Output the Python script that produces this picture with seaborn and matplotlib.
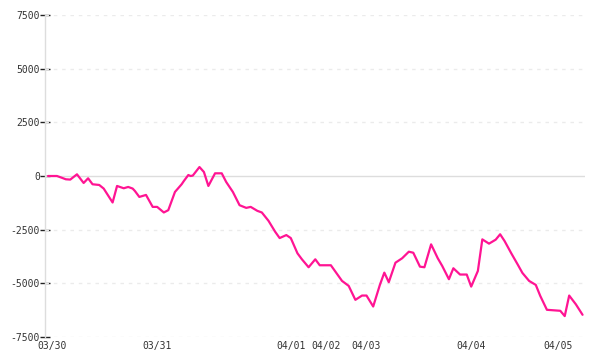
import matplotlib
matplotlib.use("Agg")
import matplotlib.pyplot as plt
import seaborn as sns
import pandas as pd

# trade / bar index and cumulative P&L
bar_index = [0, 4, 6, 8, 10, 13, 16, 18, 20, 23, 25, 29, 31, 34, 36, 38, 39, 41, 44, 47,
             49, 52, 54, 57, 60, 61, 63, 64, 65, 68, 70, 72, 75, 78, 80, 83, 86, 89, 91, 94,
             96, 99, 102, 104, 107, 109, 112, 114, 117, 120, 122, 127, 132, 135, 138, 141, 143, 146, 149, 151,
             153, 156, 159, 162, 164, 167, 169, 172, 175, 177, 180, 182, 185, 188, 190, 193, 195, 198, 201, 203,
             205, 208, 211, 213, 216, 219, 221, 224, 230, 232, 234, 237, 240]
pnl = [0, 0, -74, -153, -167, 79, -325, -107, -385, -418, -585, -1234, -464, -571, -510, -585, -696, -975, -882, -1439,
       -1439, -1699, -1592, -743, -385, -232, 46, 0, 19, 418, 186, -464, 125, 125, -278, -743, -1360, -1485, -1439, -1624,
       -1699, -2088, -2599, -2891, -2752, -2891, -3601, -3880, -4251, -3880, -4158, -4158, -4887, -5119, -5769, -5569, -5569, -6080, -5073, -4502,
       -4947, -4038, -3833, -3527, -3574, -4223, -4251, -3184, -3833, -4191, -4808, -4298, -4590, -4590, -5152, -4423, -2952, -3151, -2966, -2715,
       -3031, -3601, -4144, -4516, -4887, -5073, -5583, -6233, -6279, -6526, -5569, -5978, -6465]

day_ticks = [2, 49, 109, 125, 143, 190, 229]
day_labels = ["03/30", "03/31", "04/01", "04/02", "04/03", "04/04", "04/05"]
y_ticks = [-7500, -5000, -2500, 0, 2500, 5000, 7500]

df = pd.DataFrame({"bar": bar_index, "pnl": pnl})

sns.set_style("white")
plt.rcParams["font.family"] = ["DejaVu Sans Mono"]

fig = plt.figure(figsize=(6, 3.6), dpi=100)
ax = fig.add_axes([0.075, 1 - 337 / 360, 0.9, (337 - 15) / 360])

# grid lines
for yv in y_ticks:
    if yv == 0:
        ax.axhline(yv, color="#dddddd", lw=1.0, zorder=1)
    else:
        ax.axhline(yv, color="#ebebeb", lw=1.0, ls=(0, (2.5, 3.5)), zorder=1)

sns.lineplot(data=df, x="bar", y="pnl", ax=ax, color="#ff1493", lw=1.6, zorder=3)

ax.set_xlim(-1.35, 241.1)
ax.set_ylim(-7500, 7500)
ax.set_yticks(y_ticks)
ax.set_yticklabels([str(v) for v in y_ticks])
ax.set_xticks(day_ticks)
ax.set_xticklabels(day_labels)
ax.set_xlabel("")
ax.set_ylabel("")

for s in ["top", "right", "bottom"]:
    ax.spines[s].set_visible(False)
ax.spines["left"].set_color("#dddddd")
ax.spines["left"].set_linewidth(1.0)

ax.tick_params(axis="y", left=True, direction="inout", length=7.5, width=1, color="#222222",
               labelsize=7, labelcolor="#333333", pad=0)
ax.tick_params(axis="x", bottom=False, length=0, labelsize=7, labelcolor="#333333", pad=3)

fig.savefig("out.png", dpi=100)
